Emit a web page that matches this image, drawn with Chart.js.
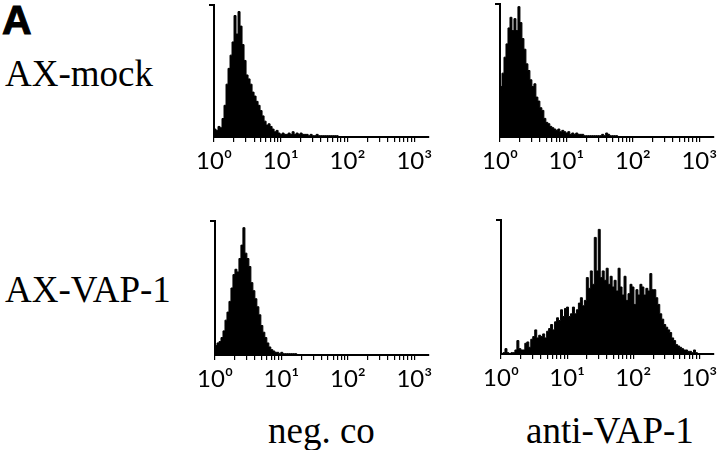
<!DOCTYPE html>
<html><head><meta charset="utf-8">
<script src="https://cdn.jsdelivr.net/npm/chart.js@4/dist/chart.umd.min.js"></script>
<style>
html,body{margin:0;padding:0;background:#fff;overflow:hidden;}
#wrap{position:relative;width:720px;height:450px;overflow:hidden;background:#fff;}
canvas{position:absolute;}
.lbl{position:absolute;font-family:"Liberation Serif","Times New Roman",serif;font-size:37px;line-height:37px;color:#000;white-space:nowrap;}
.panel{position:absolute;font-family:"Liberation Sans",Arial,sans-serif;font-weight:900;font-size:41px;line-height:41px;color:#000;-webkit-text-stroke:1px #000;}
</style></head><body>
<div id="wrap">
  <div class="panel" style="left:2px;top:0px">A</div>
  <div class="lbl" id="row0" style="left:5px;top:55px"></div>
  <div class="lbl" id="row1" style="left:5px;top:271px"></div>
  <div class="lbl" id="col0" style="left:268px;top:412px"></div>
  <div class="lbl" id="col1" style="left:526px;top:412px"></div>
  <canvas id="c1"></canvas>
  <canvas id="c2"></canvas>
  <canvas id="c3"></canvas>
  <canvas id="c4"></canvas>
</div>
<script>
const rowLabels = ['AX-mock', 'AX-VAP-1'];
const columnLabels = ['neg. co', 'anti-VAP-1'];
const decadeLabels = ['10\u2070', '10\u00b9', '10\u00b2', '10\u00b3'];
const binWidthDecades = 0.03;   // channel width on the log10 axis
const axisMaxDecades = 3.22;

// histogram heights, % of the y-axis height, one value per channel from 10^0 upward
const mockNegCo = [4,6,5,8,7,14,24,40,52,62,72,92,78,95,84,70,58,47,44,40,34,31,27,24,20,16,12,9,10,8,6,4,5,3,2,3,2,2,3,2,4,2,3,2,3,2,2,2,1,2,1,1,2,1,1,1,1,1,1,1,1,1,1,0];
const mockAntiVAP = [28,38,48,60,70,82,90,80,89,80,98,86,74,66,55,50,43,38,40,30,27,22,20,14,11,10,8,7,6,5,6,4,5,4,3,4,2,3,2,3,2,2,2,1,1,1,1,1,1,1,1,1,2,1,3,2,1,1,1,1,0];
const vapNegCo = [5,7,9,10,13,18,26,32,40,50,60,64,62,72,82,95,76,72,66,54,48,42,36,30,22,17,13,9,6,4,3,2,2,1,2,1,1,1,1,1,1,1,0];
const vapAntiVAP = [0,0,1,4,1,0,1,1,3,10,4,3,3,8,9,5,11,13,18,12,14,13,15,12,17,19,22,18,24,27,25,33,28,34,35,28,30,35,30,33,38,42,36,40,57,49,62,52,87,62,93,57,62,55,64,52,58,50,55,47,64,50,44,58,40,45,52,50,37,48,44,52,50,44,49,47,60,48,48,42,37,30,26,22,20,18,16,12,10,7,6,5,4,3,3,2,2,1,3,1,0];

document.getElementById('row0').textContent = rowLabels[0];
document.getElementById('row1').textContent = rowLabels[1];
document.getElementById('col0').textContent = columnLabels[0];
document.getElementById('col1').textContent = columnLabels[1];

const tickValues = [];
for (let d = 0; d <= 3; d++) {
  for (let m = 1; m <= 9; m++) {
    const v = d + Math.log10(m);
    if (v <= axisMaxDecades) tickValues.push(v);
  }
}

const panels = [
  {id:'c1', values: mockNegCo,  axisX:214, top:5,   base:137, right:429},
  {id:'c2', values: mockAntiVAP,axisX:500, top:4,   base:137, right:714},
  {id:'c3', values: vapNegCo,   axisX:215, top:221, base:355, right:429},
  {id:'c4', values: vapAntiVAP, axisX:501, top:220, base:354, right:714}
];

function makeChart(p) {
  const cv = document.getElementById(p.id);
  const w = (p.right - p.axisX) + 25 + 20;
  const h = (p.base - p.top) + 5 + 45;
  cv.width = w; cv.height = h;
  cv.style.width = w + 'px'; cv.style.height = h + 'px';
  cv.style.left = (p.axisX - 25) + 'px';
  cv.style.top = (p.top - 5) + 'px';
  const pts = p.values.map((v, i) => ({x: i * binWidthDecades, y: v}));
  pts.push({x: p.values.length * binWidthDecades, y: 0});
  new Chart(cv, {
    type: 'line',
    data: {datasets: [{data: pts, stepped: 'after', fill: 'origin', backgroundColor: '#000', borderColor: '#000', borderWidth: 1, pointRadius: 0, tension: 0}]},
    options: {
      responsive: false, animation: false, events: [], devicePixelRatio: 1,
      layout: {padding: {left: 19, top: 5, right: 20, bottom: 3}},
      plugins: {legend: {display: false}, tooltip: {enabled: false}},
      scales: {
        x: {
          type: 'linear', min: 0, max: axisMaxDecades,
          afterBuildTicks: s => { s.ticks = tickValues.map(v => ({value: v})); },
          afterFit: s => { s.height = 42; s.paddingLeft = 0; s.paddingRight = 0; },
          ticks: {autoSkip: false, maxRotation: 0, minRotation: 0, padding: 5, color: '#000',
            font: {family: 'Lato, "DejaVu Sans", sans-serif', size: 24, weight: 'normal'},
            callback: v => { const k = Math.round(v); return Math.abs(v - k) < 1e-6 ? decadeLabels[k] : ''; }},
          grid: {drawOnChartArea: false, drawTicks: true, tickLength: 5, color: '#000', lineWidth: 1.2},
          border: {display: true, color: '#000', width: 2}
        },
        y: {
          type: 'linear', min: 0, max: 100,
          afterBuildTicks: s => { s.ticks = [{value: 100}]; },
          afterFit: s => { s.width = 6; },
          ticks: {display: false},
          grid: {drawOnChartArea: false, drawTicks: true, tickLength: 5, color: '#000', lineWidth: 2},
          border: {display: true, color: '#000', width: 2}
        }
      }
    }
  });
}
panels.forEach(makeChart);
</script>
</body></html>
